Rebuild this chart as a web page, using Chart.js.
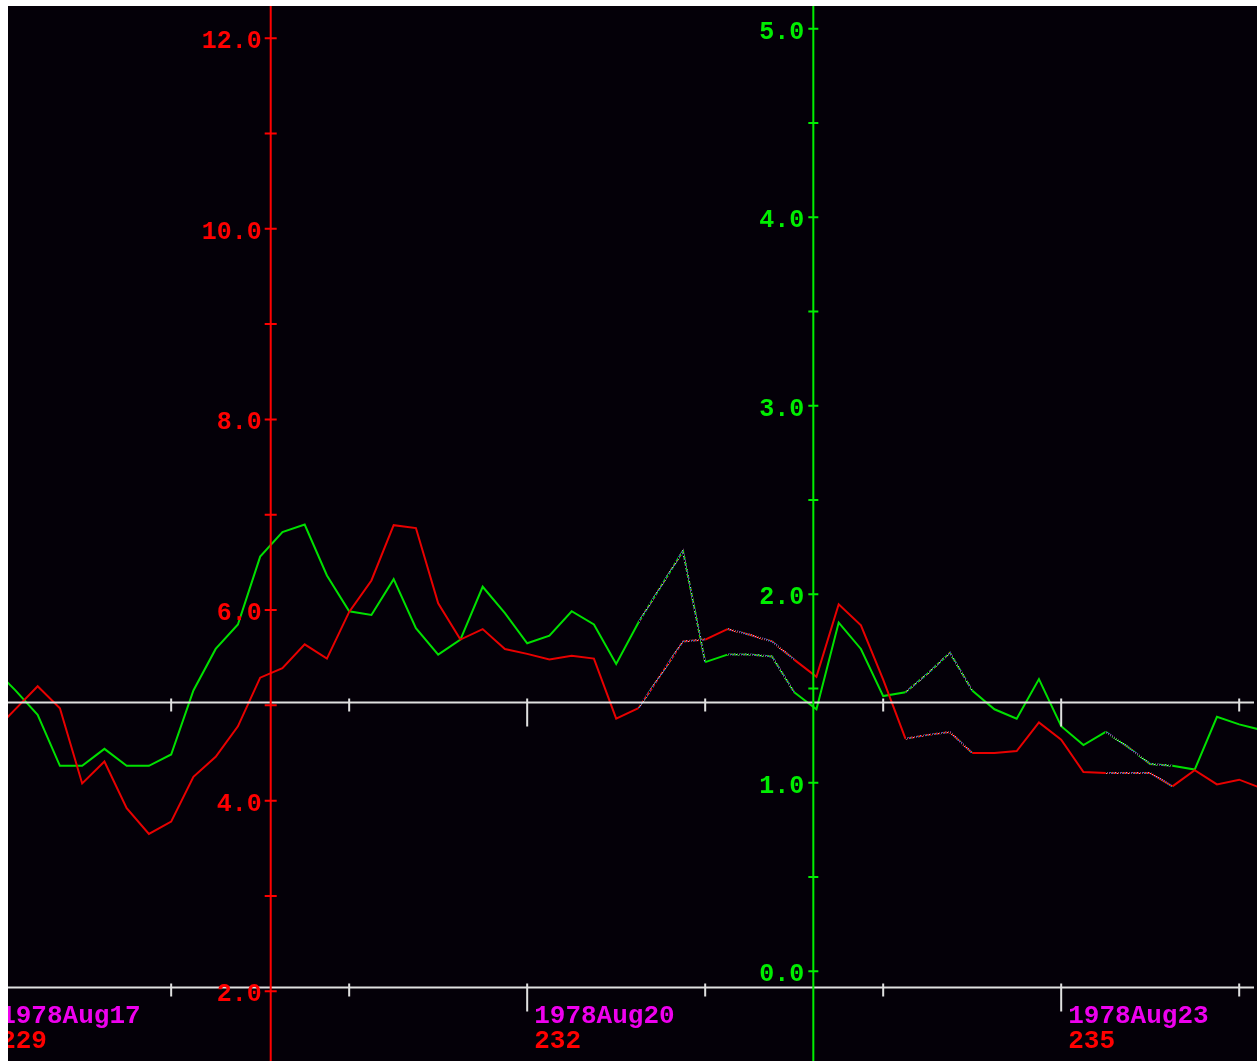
<!DOCTYPE html>
<html>
<head>
<meta charset="utf-8">
<title>1978 Aug 17-24</title>
<script src="https://cdn.jsdelivr.net/npm/chart.js@4.4.1/dist/chart.umd.min.js"></script>
<style>
  html, body { margin: 0; padding: 0; background: #ffffff; }
  #wrap { position: absolute; left: 8px; top: 6px; width: 1249px; height: 1055px; background: #040008; }
  canvas { display: block; }
</style>
</head>
<body>
<div id="wrap"><canvas id="chart" width="1249" height="1055"></canvas></div>
<script>
// ─── DATA ────────────────────────────────────────────────────────
// hours since 1978 Aug 17 00:00, one sample every 3 hours
const hours = [
  0, 3, 6, 9, 12, 15, 18, 21, 24, 27, 30, 33, 36, 39, 42, 45, 48, 51, 54, 57,
  60, 63, 66, 69, 72, 75, 78, 81, 84, 87, 90, 93, 96, 99, 102, 105, 108, 111, 114, 117,
  120, 123, 126, 129, 132, 135, 138, 141, 144, 147, 150, 153, 156, 159, 162, 165, 168, 171
];

// red series (left scale 2.0 - 12.0)
const redValues = [
  4.72, 4.96, 5.20, 4.97, 4.18, 4.41, 3.92, 3.65, 3.78, 4.25,
  4.46, 4.78, 5.29, 5.39, 5.64, 5.49, 5.98, 6.31, 6.89, 6.86,
  6.07, 5.69, 5.80, 5.59, 5.54, 5.48, 5.52, 5.49, 4.86, 4.97,
  5.32, 5.67, 5.69, 5.80, 5.74, 5.67, 5.48, 5.30, 6.06, 5.84,
  5.27, 4.65, 4.69, 4.72, 4.50, 4.50, 4.52, 4.82, 4.64, 4.30,
  4.29, 4.29, 4.29, 4.15, 4.32, 4.17, 4.22, 4.13
];

// green series (right scale 0.0 - 5.0)
const greenValues = [
  1.61, 1.49, 1.36, 1.09, 1.09, 1.18, 1.09, 1.09, 1.15, 1.49,
  1.71, 1.84, 2.20, 2.33, 2.37, 2.10, 1.91, 1.89, 2.08, 1.82,
  1.68, 1.76, 2.04, 1.90, 1.74, 1.78, 1.91, 1.84, 1.63, 1.85,
  2.04, 2.23, 1.64, 1.68, 1.68, 1.67, 1.48, 1.39, 1.85, 1.71,
  1.46, 1.48, 1.58, 1.69, 1.49, 1.39, 1.34, 1.55, 1.30, 1.20,
  1.27, 1.19, 1.10, 1.09, 1.07, 1.35, 1.31, 1.28
];

// samples that were filled in (drawn as speckled segments)
const filledSamples = [30, 31, 34, 35, 42, 43, 51, 52];

// tick values
const redTicks    = [2, 4, 6, 8, 10, 12];
const redMinor    = [3, 5, 7, 9, 11];
const greenTicks  = [0, 1, 2, 3, 4, 5];
const greenMinor  = [0.5, 1.5, 2.5, 3.5, 4.5];
const dayTicks    = [0, 24, 48, 72, 96, 120, 144, 168];
const labelHours  = [0, 72, 144];
const dateLabels  = ['1978Aug17', '1978Aug20', '1978Aug23'];
const dayLabels   = ['229', '232', '235'];

// ─── LAYOUT CONSTANTS ────────────────────────────────────────────
const RED      = '#ff0000';
const GREEN    = '#00ee00';
const MAGENTA  = '#ee00ee';
const WHITE    = '#e0e0e0';
const BG       = '#040008';
const redAxisAt   = 37.42;   // hour where the red axis stands
const greenAxisAt = 110.58;  // hour where the green axis stands
const midLine     = 5.03;    // red-scale value of the middle time line
const bottomLine  = 2.04;    // red-scale value of the bottom time line

// speckled stroke for filled segments, like the old plotter output
function speckle(color) {
  const palette = [color, '#b8b8b8', BG, '#d07000', color, '#9a20b0', '#2838d8', BG, '#00a8a8', color, '#707070'];
  const c = document.createElement('canvas');
  c.width = 11; c.height = 11;
  const g = c.getContext('2d');
  for (let i = 0; i < 11; i++) {
    for (let j = 0; j < 11; j++) {
      g.fillStyle = palette[(i * 3 + j * 5) % palette.length];
      g.fillRect(i, j, 1, 1);
    }
  }
  return g.createPattern(c, 'repeat');
}

const isFilled = ctx =>
  filledSamples.includes(ctx.p0DataIndex) || filledSamples.includes(ctx.p1DataIndex);

// ─── AXES PLUGIN ─────────────────────────────────────────────────
// draws the axes the old-plotter way, using Chart.js scales for positions
const oldAxes = {
  id: 'oldAxes',
  afterDatasetsDraw(chart) {
    const { ctx, chartArea: area } = chart;
    const x = chart.scales.x, yr = chart.scales.yRed, yg = chart.scales.yGreen;

    ctx.save();
    ctx.lineWidth = 2;
    ctx.lineCap = 'butt';

    // time lines with day ticks
    [midLine, bottomLine].forEach((v, n) => {
      const py = yr.getPixelForValue(v);
      ctx.strokeStyle = WHITE;
      ctx.beginPath();
      ctx.moveTo(area.left, py);
      ctx.lineTo(area.right - 3, py);
      dayTicks.forEach(h => {
        const px = x.getPixelForValue(h);
        const major = labelHours.includes(h);
        ctx.moveTo(px, py - 4);
        ctx.lineTo(px, py + (major ? 24 : 9));
      });
      ctx.stroke();

      if (n === 1) {
        ctx.font = 'bold 26px "Liberation Mono", "DejaVu Sans Mono", monospace';
        ctx.textAlign = 'left';
        ctx.textBaseline = 'alphabetic';
        labelHours.forEach((h, i) => {
          const px = x.getPixelForValue(h) + 7;
          ctx.fillStyle = MAGENTA;
          ctx.fillText(dateLabels[i], px, py + 36);
          ctx.fillStyle = RED;
          ctx.fillText(dayLabels[i], px, py + 61);
        });
      }
    });

    // vertical value axes
    const drawAxis = (scale, at, major, minor, color, half) => {
      const px = x.getPixelForValue(at);
      ctx.strokeStyle = color;
      ctx.beginPath();
      ctx.moveTo(px, area.top);
      ctx.lineTo(px, area.bottom);
      major.concat(minor).forEach(v => {
        const py = scale.getPixelForValue(v);
        ctx.moveTo(px - half, py);
        ctx.lineTo(px + half, py);
      });
      ctx.stroke();

      ctx.fillStyle = color;
      ctx.font = 'bold 25px "Liberation Mono", "DejaVu Sans Mono", monospace';
      ctx.textAlign = 'right';
      ctx.textBaseline = 'alphabetic';
      major.forEach(v => {
        const py = scale.getPixelForValue(v);
        ctx.fillText(v.toFixed(1), px - 9, py + 10);
      });
    };
    drawAxis(yr, redAxisAt, redTicks, redMinor, RED, 6);
    drawAxis(yg, greenAxisAt, greenTicks, greenMinor, GREEN, 5);

    ctx.restore();
  }
};

// ─── CHART ───────────────────────────────────────────────────────
const redSpeckle   = speckle('#e80000');
const greenSpeckle = speckle('#00e000');

new Chart(document.getElementById('chart'), {
  type: 'line',
  data: {
    datasets: [
      {
        label: 'red',
        data: hours.map((h, i) => ({ x: h, y: redValues[i] })),
        yAxisID: 'yRed',
        borderColor: '#e80000',
        borderWidth: 2,
        pointRadius: 0,
        tension: 0,
        segment: { borderColor: ctx => isFilled(ctx) ? redSpeckle : undefined }
      },
      {
        label: 'green',
        data: hours.map((h, i) => ({ x: h, y: greenValues[i] })),
        yAxisID: 'yGreen',
        borderColor: '#00e000',
        borderWidth: 2,
        pointRadius: 0,
        tension: 0,
        segment: { borderColor: ctx => isFilled(ctx) ? greenSpeckle : undefined }
      }
    ]
  },
  options: {
    responsive: false,
    animation: false,
    devicePixelRatio: 1,
    layout: { padding: 0 },
    plugins: { legend: { display: false }, tooltip: { enabled: false } },
    scales: {
      x:      { type: 'linear', min: 2, max: 170.4, display: false },
      yRed:   { type: 'linear', min: 1.268, max: 12.338, display: false },
      yGreen: { type: 'linear', min: -0.476, max: 5.121, display: false }
    }
  },
  plugins: [oldAxes]
});
</script>
</body>
</html>
